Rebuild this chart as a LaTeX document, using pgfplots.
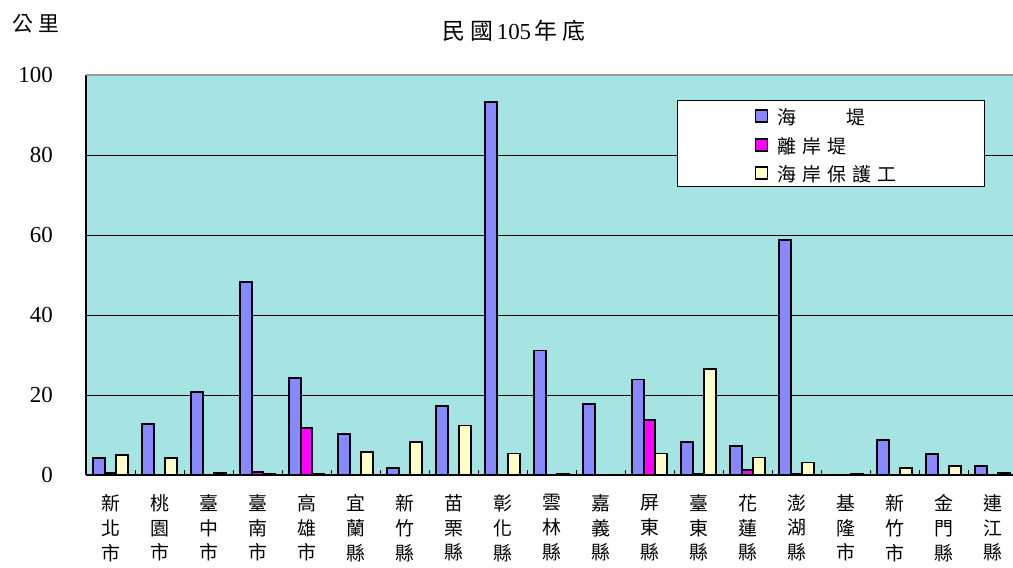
\documentclass[border=0pt]{standalone}
\usepackage{pgfplots}
\pgfplotsset{compat=1.18}
\usepackage{fontspec}
\setmainfont{Liberation Serif}
\newfontfamily\cjk{Noto Sans CJK TC}
\definecolor{bgc}{RGB}{166,227,227}
\definecolor{c1}{RGB}{136,136,255}
\definecolor{c2}{RGB}{255,0,255}
\definecolor{c3}{RGB}{255,255,200}
\begin{document}
\begin{tikzpicture}[x=1bp,y=1bp]
\begin{axis}[at={(86bp,93bp)}, anchor=south west, scale only axis,
  width=931bp, height=400bp,
  xmin=-0.5, xmax=18.5, ymin=0, ymax=100,
  ytick={0,20,40,60,80,100},
  ymajorgrids, major grid style={black, line width=0.8bp},
  axis background/.style={fill=bgc},
  axis x line*=bottom, axis y line*=left,
  axis line style={black, line width=1.2bp},
  major tick length=0pt,
  /pgf/number format/assume math mode=true,
  yticklabel style={font=\fontsize{23}{23}\selectfont, inner sep=0pt, xshift=-33bp},
  xtick={0,...,18},
  xticklabels={{新\\北\\市},{桃\\園\\市},{臺\\中\\市},{臺\\南\\市},{高\\雄\\市},{宜\\蘭\\縣},{新\\竹\\縣},{苗\\栗\\縣},{彰\\化\\縣},{雲\\林\\縣},{嘉\\義\\縣},{屏\\東\\縣},{臺\\東\\縣},{花\\蓮\\縣},{澎\\湖\\縣},{基\\隆\\市},{新\\竹\\市},{金\\門\\縣},{連\\江\\縣}},
  xticklabel style={font=\cjk\fontsize{19}{25}\selectfont, align=center, inner sep=0pt, yshift=-19bp},
  extra x ticks={0.5,1.5,...,17.5},
  extra x tick labels={},
  extra x tick style={major tick length=5bp, tick align=inside, tick style={black, line width=0.8bp}, grid=none},
  ybar=0pt, bar width=11.5bp,
  legend image code/.code={\path[draw=none,fill=none] (0bp,0bp) -- (100bp,0bp); \draw[#1] (78bp,-7bp) rectangle (90bp,5bp);},
  legend style={at={(0.635,0.9375)}, anchor=north west, draw=black, line width=1bp, fill=white,
    inner xsep=0pt, inner ysep=3.5bp, row sep=6bp, column sep=0pt, nodes={inner sep=0pt}, font=\cjk\fontsize{19}{19}\selectfont},
  legend cell align=left,
]
\addplot[fill=c1, draw=black, line width=1.6bp] coordinates {(0,4.2) (1,12.8) (2,20.8) (3,48.2) (4,24.3) (5,10.2) (6,1.7) (7,17.2) (8,93.3) (9,31.1) (10,17.7) (11,23.9) (12,8.3) (13,7.3) (14,58.7) (16,8.7) (17,5.3) (18,2.2)};
\addplot[fill=c2, draw=black, line width=1.6bp] coordinates {(0,0.5) (3,0.8) (4,11.8) (11,13.7) (12,0.3) (13,1.3) (14,0.3)};
\addplot[fill=c3, draw=black, line width=1.6bp] coordinates {(0,5.0) (1,4.2) (2,0.5) (3,0.4) (4,0.3) (5,5.7) (6,8.3) (7,12.4) (8,5.4) (9,0.3) (11,5.4) (12,26.5) (13,4.4) (14,3.1) (15,0.3) (16,1.7) (17,2.2) (18,0.5)};
\legend{\makebox[207bp][l]{\rule[-8bp]{0pt}{29bp}海\hspace{50bp}堤},
        \makebox[207bp][l]{\rule[-8bp]{0pt}{29bp}離\hspace{6bp}岸\hspace{6bp}堤},
        \makebox[207bp][l]{\rule[-8bp]{0pt}{29bp}海\hspace{6bp}岸\hspace{6bp}保\hspace{6bp}護\hspace{6bp}工}}
\end{axis}
\draw[gray!80, line width=1.5bp] (86,493) -- (1013,493);
\node[font=\fontsize{23}{23}\selectfont] at (514,537) {{\cjk 民\hspace{5bp}國}\hspace{3bp}105\hspace{3bp}{\cjk 年\hspace{5bp}底}};
\node[font=\cjk\fontsize{21}{21}\selectfont] at (36,544) {公\hspace{5bp}里};
\pgfresetboundingbox
\path[use as bounding box] (0,0) rectangle (1013,568);
\end{tikzpicture}
\end{document}
